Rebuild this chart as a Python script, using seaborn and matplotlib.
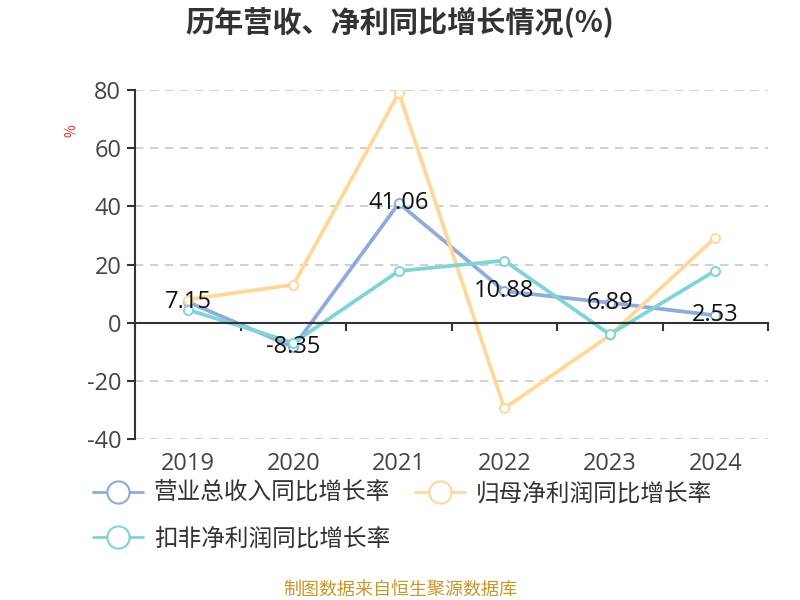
import matplotlib
matplotlib.use("Agg")
import matplotlib.pyplot as plt
import seaborn as sns
import pandas as pd
from matplotlib.lines import Line2D
from matplotlib.ticker import FixedLocator

years = ["2019", "2020", "2021", "2022", "2023", "2024"]
revenue_growth = [7.15, -8.35, 41.06, 10.88, 6.89, 2.53]
parent_profit_growth = [8.0, 13.1, 79.0, -29.4, -4.3, 29.3]
deducted_profit_growth = [4.5, -6.9, 17.8, 21.4, -4.0, 17.9]
series_names = ["营业总收入同比增长率", "归母净利润同比增长率", "扣非净利润同比增长率"]
colors = ["#8FAADC", "#FFD899", "#80D4D6"]
yticks = [-40, -20, 0, 20, 40, 60, 80]

sns.set_theme(style="white")
plt.rcParams['font.family'] = ['Noto Sans CJK SC', 'DejaVu Sans']
plt.rcParams['axes.unicode_minus'] = False
NUM_FONT = ['Open Sans', 'Noto Sans CJK SC', 'DejaVu Sans']

df = pd.DataFrame({
    "year": years * 3,
    "value": revenue_growth + parent_profit_growth + deducted_profit_growth,
    "series": [series_names[0]] * 6 + [series_names[1]] * 6 + [series_names[2]] * 6,
})

fig = plt.figure(figsize=(8, 6), dpi=100)
ax = fig.add_axes([0.169, 0.268, 0.791, 0.582])

sns.lineplot(data=df, x="year", y="value", hue="series", hue_order=series_names,
             palette=colors, linewidth=2.7, marker="o", markersize=6.5,
             markerfacecolor="white", markeredgewidth=1.4, legend=False, ax=ax,
             sort=False)
for line, c in zip(ax.get_lines(), colors):
    line.set_markeredgecolor(c)

ax.set_xlim(-0.5, len(years) - 0.5)
ax.set_ylim(-40, 80)
ax.set_yticks(yticks)
for y in yticks:
    if y != 0:
        ax.axhline(y, color="#c8c8c8", linestyle=(0, (5, 4)), linewidth=1.2, zorder=0)

for s in ["top", "right"]:
    ax.spines[s].set_visible(False)
ax.spines["left"].set_color("#333333")
ax.spines["left"].set_linewidth(1.5)
ax.spines["bottom"].set_position(("data", 0))
ax.spines["bottom"].set_color("#333333")
ax.spines["bottom"].set_linewidth(1.5)

ax.tick_params(axis="y", length=6, width=1.5, color="#333333", labelsize=17,
               labelcolor="#444444", direction="out", left=True, pad=4)
ax.set_xticks(range(len(years)))
ax.set_xticklabels(years)
ax.tick_params(axis="x", which="major", length=0, pad=93, labelsize=17, labelcolor="#444444")
ax.xaxis.set_minor_locator(FixedLocator([i - 0.5 for i in range(len(years) + 1)]))
ax.tick_params(axis="x", which="minor", length=6, width=1.5, color="#333333",
               direction="out", bottom=True)
for lab in ax.get_xticklabels() + ax.get_yticklabels():
    lab.set_family(NUM_FONT)
ax.set_xlabel("")
ax.set_ylabel("")

for i, v in enumerate(revenue_growth):
    ax.text(i, v, f"{v:.2f}", ha="center", va="center", fontsize=17, color="#111111",
            zorder=5, family=NUM_FONT)

fig.text(0.5, 0.963, "历年营收、净利同比增长情况(%)", ha="center", va="center",
         fontsize=21, fontweight="bold", color="#333333")
fig.text(0.09, 0.783, "%", rotation=90, ha="center", va="center", fontsize=10, color="#e8312f")
fig.text(0.5, 0.018, "制图数据来自恒生聚源数据库", ha="center", va="center",
         fontsize=13, color="#C9962B")

handles = [Line2D([0], [0], color=c, linewidth=2, marker="o", markersize=16,
                  markerfacecolor="white", markeredgewidth=1.5, markeredgecolor=c)
           for c in colors]
order = [0, 2, 1]
fig.legend([handles[i] for i in order], [series_names[i] for i in order],
           ncol=2, loc="upper left", bbox_to_anchor=(0.09, 0.232), frameon=False,
           fontsize=17, handlelength=2.1, handletextpad=0.47, columnspacing=1.06,
           labelspacing=0.95, labelcolor="#333333")

fig.savefig("out.png", dpi=100)
